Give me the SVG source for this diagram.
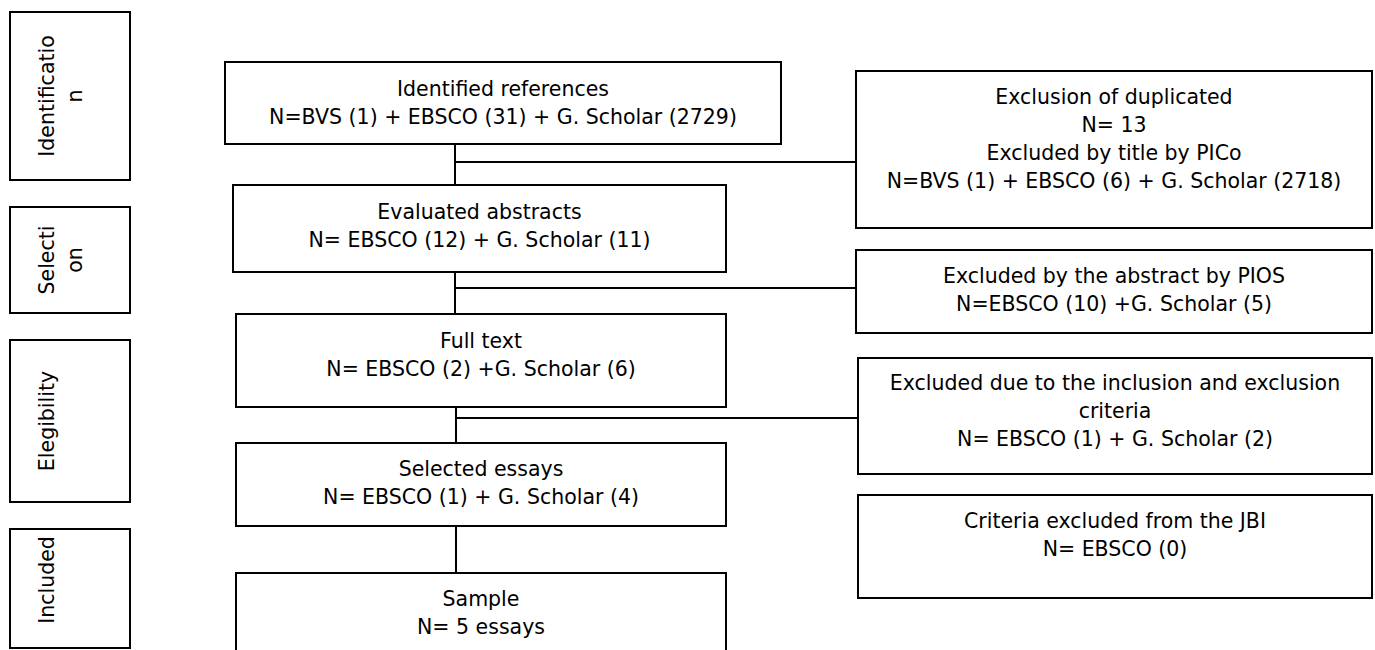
<svg xmlns="http://www.w3.org/2000/svg" width="1375" height="650" viewBox="0 0 1375 650">
  <style>
    .box { fill: #ffffff; stroke: #000000; stroke-width: 2; }
    .lbl { font-family: "DejaVu Sans", "Liberation Sans", sans-serif; font-size: 20.5px; fill: #000000; text-anchor: middle; }
    .conn { stroke: #000000; stroke-width: 2; fill: none; }
  </style>
  <rect x="0" y="0" width="1375" height="650" fill="#ffffff"/>

  <g id="connectors">
    <line class="conn" x1="455" y1="144" x2="455" y2="185"/>
    <line class="conn" x1="455" y1="162" x2="856" y2="162"/>
    <line class="conn" x1="455" y1="272" x2="455" y2="314"/>
    <line class="conn" x1="455" y1="288" x2="856" y2="288"/>
    <line class="conn" x1="456" y1="407" x2="456" y2="443"/>
    <line class="conn" x1="456" y1="418" x2="858" y2="418"/>
    <line class="conn" x1="456" y1="526" x2="456" y2="573"/>
  </g>

  <g id="phase-identification">
    <rect class="box" x="10" y="12" width="120" height="168"/>
    <text class="lbl" transform="translate(54,96) rotate(-90)"><tspan x="0" y="0">Identificatio</tspan><tspan x="0" dy="28">n</tspan></text>
  </g>
  <g id="phase-selection">
    <rect class="box" x="10" y="207" width="120" height="106"/>
    <text class="lbl" transform="translate(54,260) rotate(-90)"><tspan x="0" y="0">Selecti</tspan><tspan x="0" dy="28">on</tspan></text>
  </g>
  <g id="phase-eligibility">
    <rect class="box" x="10" y="340" width="120" height="162"/>
    <text class="lbl" transform="translate(54,421) rotate(-90)">Elegibility</text>
  </g>
  <g id="phase-included">
    <rect class="box" x="10" y="529" width="120" height="119"/>
    <text class="lbl" transform="translate(54,580) rotate(-90)">Included</text>
  </g>

  <g id="identified">
    <rect class="box" x="225" y="62" width="556" height="82"/>
    <text class="lbl" x="503" y="95.5">Identified references</text>
    <text class="lbl" x="503" y="123.5">N=BVS (1) + EBSCO (31) + G. Scholar (2729)</text>
  </g>
  <g id="evaluated">
    <rect class="box" x="233" y="185" width="493" height="87"/>
    <text class="lbl" x="479.5" y="218.5">Evaluated abstracts</text>
    <text class="lbl" x="479.5" y="246.5">N= EBSCO (12) + G. Scholar (11)</text>
  </g>
  <g id="fulltext">
    <rect class="box" x="236" y="314" width="490" height="93"/>
    <text class="lbl" x="481" y="348">Full text</text>
    <text class="lbl" x="481" y="376">N= EBSCO (2) +G. Scholar (6)</text>
  </g>
  <g id="selected">
    <rect class="box" x="236" y="443" width="490" height="83"/>
    <text class="lbl" x="481" y="476">Selected essays</text>
    <text class="lbl" x="481" y="504">N= EBSCO (1) + G. Scholar (4)</text>
  </g>
  <g id="sample">
    <rect class="box" x="236" y="573" width="490" height="95"/>
    <text class="lbl" x="481" y="606">Sample</text>
    <text class="lbl" x="481" y="634">N= 5 essays</text>
  </g>

  <g id="excl-duplicates">
    <rect class="box" x="856" y="71" width="516" height="157"/>
    <text class="lbl" x="1114" y="104">Exclusion of duplicated</text>
    <text class="lbl" x="1114" y="132">N= 13</text>
    <text class="lbl" x="1114" y="160">Excluded by title by PICo</text>
    <text class="lbl" x="1114" y="188">N=BVS (1) + EBSCO (6) + G. Scholar (2718)</text>
  </g>
  <g id="excl-abstract">
    <rect class="box" x="856" y="250" width="516" height="83"/>
    <text class="lbl" x="1114" y="283">Excluded by the abstract by PIOS</text>
    <text class="lbl" x="1114" y="311">N=EBSCO (10) +G. Scholar (5)</text>
  </g>
  <g id="excl-criteria">
    <rect class="box" x="858" y="358" width="514" height="116"/>
    <text class="lbl" x="1115" y="390">Excluded due to the inclusion and exclusion</text>
    <text class="lbl" x="1115" y="418">criteria</text>
    <text class="lbl" x="1115" y="446">N= EBSCO (1) + G. Scholar (2)</text>
  </g>
  <g id="excl-jbi">
    <rect class="box" x="858" y="495" width="514" height="103"/>
    <text class="lbl" x="1115" y="528">Criteria excluded from the JBI</text>
    <text class="lbl" x="1115" y="556">N= EBSCO (0)</text>
  </g>
</svg>
